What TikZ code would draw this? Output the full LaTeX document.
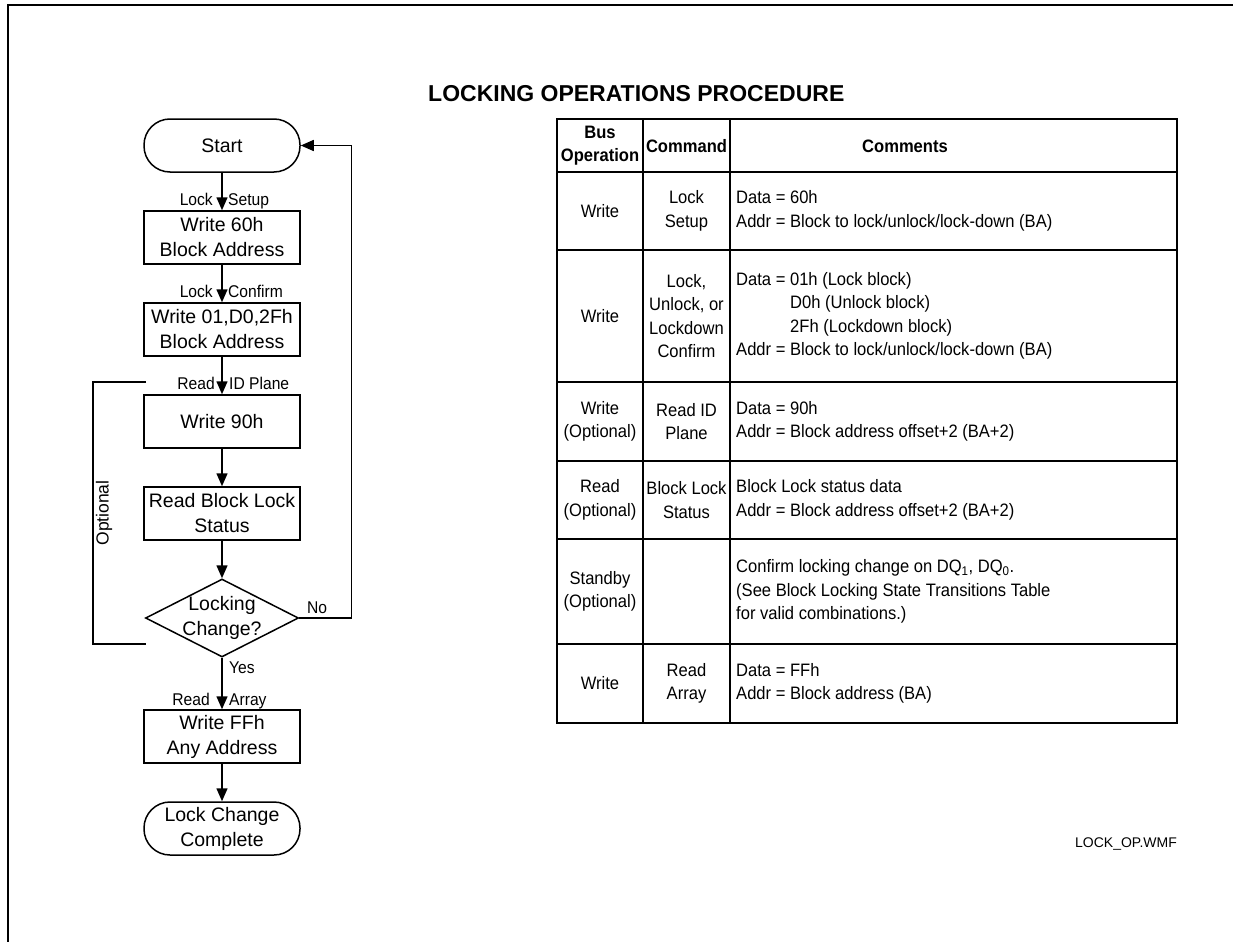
\documentclass[tikz,border=0pt]{standalone}
\usepackage{fontspec}
\setmainfont{Liberation Sans}
\newfontfamily\narrowfont[FakeStretch=0.92]{Liberation Sans}
\usetikzlibrary{arrows.meta,shapes.geometric}
\begin{document}
\begin{tikzpicture}[x=1pt,y=-1pt,
  fl/.style={line width=1.5pt},
  arr/.style={fl,-{Triangle[length=13pt,width=11pt]}},
  boxfont/.style={font=\fontsize{19.5}{25}\selectfont},
  procbox/.style={draw,fl,boxfont,minimum width=156pt,minimum height=53pt,inner sep=0pt,align=center},
  term/.style={procbox,rounded corners=26pt},
  lbl/.style={inner sep=0pt,font=\narrowfont\fontsize{17}{20}\selectfont},
  tcell/.style={inner sep=0pt,align=center,font=\narrowfont\fontsize{18}{23.5}\selectfont},
  thead/.style={inner sep=0pt,align=center,font=\narrowfont\bfseries\fontsize{18}{23}\selectfont},
  tcom/.style={inner sep=0pt,align=left,anchor=west,font=\narrowfont\fontsize{18}{23.5}\selectfont},
  gridline/.style={line width=2pt}]
\useasboundingbox (0,0) rectangle (1233,942);
% frame
\draw[line width=2pt] (1233,5.5) -- (8,5.5) -- (8,942);

% ---------------- flowchart ----------------
\node[term] (start) at (222,145.5) {Start};
\node[procbox] (b1) at (222,237.5) {Write 60h\\Block Address};
\node[procbox] (b2) at (222,329.5) {Write 01,D0,2Fh\\Block Address};
\node[procbox] (b3) at (222,421.5) {Write 90h};
\node[procbox] (b4) at (222,513.5) {Read Block Lock\\Status};
\node[diamond,draw,fl,minimum width=153pt,minimum height=78pt,inner sep=0pt] (dec) at (222,618) {};
\node[boxfont,align=center,inner sep=0pt] (dect) at (dec) {Locking\\Change?};
\node[procbox] (b5) at (222,736.5) {Write FFh\\Any Address};
\node[term] (end) at (222,828.5) {Lock Change\\Complete};

\draw[arr] (start.south) -- (b1.north);
\draw[arr] (b1.south) -- (b2.north);
\draw[arr] (b2.south) -- (b3.north);
\draw[arr] (b3.south) -- (b4.north);
\draw[arr] (b4.south) -- (dec.north);
\draw[arr] (dec.south) -- (b5.north);
\draw[arr] (b5.south) -- (end.north);
\draw[arr] (dec.east) -- ++(52,0) |- (start.east);

% edge labels
\node[lbl,anchor=base east] (l1a) at (213,205.5) {Lock};
\node[lbl,anchor=base west] (l1b) at (228,205.5) {Setup};
\node[lbl,anchor=base east] (l2a) at (213,297.5) {Lock};
\node[lbl,anchor=base west] (l2b) at (228,297.5) {Confirm};
\node[lbl,anchor=base east] (l3a) at (215,389) {Read};
\node[lbl,anchor=base west] (l3b) at (229,389) {ID Plane};
\node[lbl,anchor=base west] (no) at (307,613) {No};
\node[lbl,anchor=base west] (yes) at (229,673) {Yes};
\node[lbl,anchor=base east] (l5a) at (210,705) {Read};
\node[lbl,anchor=base west] (l5b) at (229,705) {Array};

% optional bracket
\coordinate (o1) at (146,382);
\coordinate (o2) at (146,644);
\draw[fl] (o1) -- ++(-53,0) |- (o2);
\node[inner sep=0pt,rotate=90,font=\fontsize{17.5}{20}\selectfont] (opt) at (104,513) {Optional};

% ---------------- title ----------------
\node[inner sep=0pt,anchor=base west,font=\bfseries\fontsize{23}{27}\selectfont] (title) at (428,101.5) {LOCKING OPERATIONS PROCEDURE};

% ---------------- table ----------------
\draw[gridline] (557,119) rectangle (1177,723);
\draw[gridline] (643,119) -- (643,723) (730,119) -- (730,723);
\foreach \yy in {172,250,382,461,539,644} \draw[gridline] (557,\yy) -- (1177,\yy);

\node[thead] (h1) at (600,146) {Bus\\Operation};
\node[thead] (h2) at (686.5,146) {Command};
\node[thead] (h3) at (905,146) {Comments};

\node[tcell] (r1a) at (600,211) {Write};
\node[tcell] (r1b) at (686.5,211) {Lock\\Setup};
\node[tcom] (r1c) at (736,211) {Data = 60h\\Addr = Block to lock/unlock/lock-down (BA)};

\node[tcell] (r2a) at (600,316) {Write};
\node[tcell] (r2b) at (686.5,316) {Lock,\\Unlock, or\\Lockdown\\Confirm};
\node[tcom] (r2c) at (736,316) {Data = 01h (Lock block)\\\hspace*{54pt}D0h (Unlock block)\\\hspace*{54pt}2Fh (Lockdown block)\\Addr = Block to lock/unlock/lock-down (BA)};

\node[tcell] (r3a) at (600,421.5) {Write\\(Optional)};
\node[tcell] (r3b) at (686.5,421.5) {Read ID\\Plane};
\node[tcom] (r3c) at (736,421.5) {Data = 90h\\Addr = Block address offset+2 (BA+2)};

\node[tcell] (r4a) at (600,500) {Read\\(Optional)};
\node[tcell] (r4b) at (686.5,500) {Block Lock\\Status};
\node[tcom] (r4c) at (736,500) {Block Lock status data\\Addr = Block address offset+2 (BA+2)};

\node[tcell] (r5a) at (600,591.5) {Standby\\(Optional)};
\node[tcom] (r5c) at (736,591.5) {Confirm locking change on DQ\textsubscript{1}, DQ\textsubscript{0}.\\(See Block Locking State Transitions Table\\for valid combinations.)};

\node[tcell] (r6a) at (600,683.5) {Write};
\node[tcell] (r6b) at (686.5,683.5) {Read\\Array};
\node[tcom] (r6c) at (736,683.5) {Data = FFh\\Addr = Block address (BA)};

\node[inner sep=0pt,anchor=base east,font=\fontsize{14}{16}\selectfont] (fname) at (1177,847) {LOCK\_OP.WMF};
\end{tikzpicture}
\end{document}
